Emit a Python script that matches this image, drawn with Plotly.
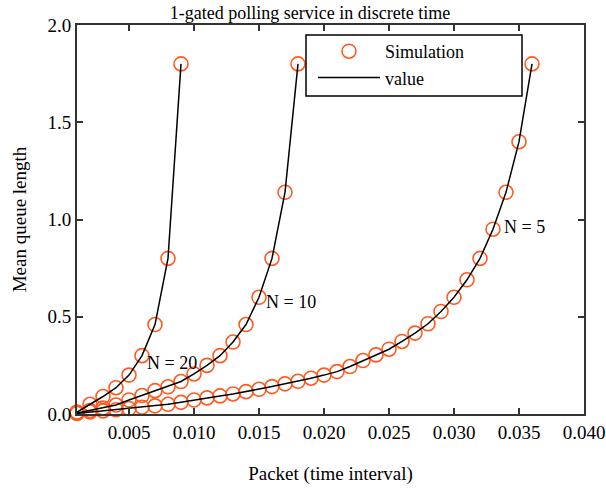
import plotly.graph_objects as go

# ---- data ----
x_n20 = [0.001, 0.002, 0.003, 0.004, 0.005, 0.006, 0.007, 0.008, 0.009]
y_n20 = [0.01, 0.05, 0.09, 0.135, 0.20, 0.30, 0.46, 0.80, 1.80]

x_n10 = [0.001, 0.002, 0.003, 0.004, 0.005, 0.006, 0.007, 0.008, 0.009,
         0.010, 0.011, 0.012, 0.013, 0.014, 0.015, 0.016, 0.017, 0.018]
y_n10 = [0.005, 0.018, 0.030, 0.046, 0.072, 0.095, 0.120, 0.140, 0.167,
         0.206, 0.250, 0.300, 0.370, 0.460, 0.600, 0.800, 1.140, 1.800]

x_n5 = [0.001, 0.002, 0.003, 0.004, 0.005, 0.006, 0.007, 0.008, 0.009,
        0.010, 0.011, 0.012, 0.013, 0.014, 0.015, 0.016, 0.017, 0.018,
        0.019, 0.020, 0.021, 0.022, 0.023, 0.024, 0.025, 0.026, 0.027,
        0.028, 0.029, 0.030, 0.031, 0.032, 0.033, 0.034, 0.035, 0.036]
y_n5 = [0.003, 0.010, 0.016, 0.022, 0.028, 0.035, 0.042, 0.050, 0.060,
        0.072, 0.083, 0.093, 0.103, 0.115, 0.127, 0.141, 0.155, 0.168,
        0.184, 0.200, 0.218, 0.244, 0.275, 0.304, 0.333, 0.373, 0.416,
        0.464, 0.527, 0.600, 0.690, 0.800, 0.950, 1.140, 1.400, 1.800]

x_ticks = [0.005, 0.010, 0.015, 0.020, 0.025, 0.030, 0.035, 0.040]
y_ticks = [0.0, 0.5, 1.0, 1.5, 2.0]

curve_labels = ["N = 20", "N = 10", "N = 5"]
label_x = [0.0062, 0.0154, 0.0337]
label_y = [0.263, 0.577, 0.96]

FONT = "Liberation Serif"
MARK = "#ff5a1f"

fig = go.Figure()

series = [(x_n20, y_n20), (x_n10, y_n10), (x_n5, y_n5)]
for i, (xs, ys) in enumerate(series):
    fig.add_trace(go.Scatter(
        x=xs, y=ys, mode="markers", name="Simulation",
        showlegend=(i == 0), legendrank=1,
        marker=dict(symbol="circle-open", size=14, color=MARK,
                    line=dict(width=1.6, color=MARK)),
        cliponaxis=False,
    ))
for i, (xs, ys) in enumerate(series):
    fig.add_trace(go.Scatter(
        x=xs, y=ys, mode="lines", name="value",
        showlegend=(i == 0), legendrank=2,
        line=dict(color="black", width=1.5),
    ))

for t, lx, ly in zip(curve_labels, label_x, label_y):
    fig.add_annotation(x=lx, y=ly, text=t, showarrow=False,
                       xanchor="left", yanchor="middle",
                       font=dict(family=FONT, size=18, color="black"))

# legend frame
fig.add_shape(type="rect", xref="paper", yref="paper",
              x0=(306 - 77) / 507, x1=(522 - 77) / 507,
              y0=(414 - 96) / 389, y1=(414 - 35) / 389,
              line=dict(color="black", width=1.5), fillcolor="rgba(0,0,0,0)")

axis_common = dict(
    showline=True, linecolor="#333333", linewidth=1.8, mirror="ticks",
    ticks="inside", ticklen=6, tickwidth=1.5, tickcolor="#333333",
    showgrid=False, zeroline=False, automargin=False,
    tickfont=dict(family=FONT, size=19, color="black"),
)

fig.update_layout(
    width=606, height=489,
    margin=dict(l=77, r=22, t=25, b=75),
    paper_bgcolor="white", plot_bgcolor="white",
    title=dict(text="1-gated polling service in discrete time",
               x=310 / 606, xanchor="center", y=1 - 13 / 489, yanchor="middle",
               automargin=False,
               font=dict(family=FONT, size=18, color="black")),
    xaxis=dict(range=[0.001, 0.040], tickvals=x_ticks,
               ticktext=[f"{v:.3f}" for v in x_ticks],
               title=dict(text="Packet (time interval)",
                          font=dict(family=FONT, size=19, color="black"),
                          standoff=25),
               **axis_common),
    yaxis=dict(range=[0.0, 2.0], tickvals=y_ticks,
               ticktext=[f"{v:.1f}" for v in y_ticks],
               title=dict(text="Mean queue length",
                          font=dict(family=FONT, size=19, color="black"),
                          standoff=16),
               **axis_common),
    legend=dict(x=(313 - 77) / 507, y=(414 - 33) / 389,
                xanchor="left", yanchor="top",
                bgcolor="rgba(0,0,0,0)", borderwidth=0,
                itemwidth=62, tracegroupgap=0,
                font=dict(family=FONT, size=18, color="black")),
    showlegend=True,
)

fig.write_html("out.html",
               config={"displayModeBar": False},
               post_script="document.body.style.margin='0';"
                           "document.body.style.padding='0';")
